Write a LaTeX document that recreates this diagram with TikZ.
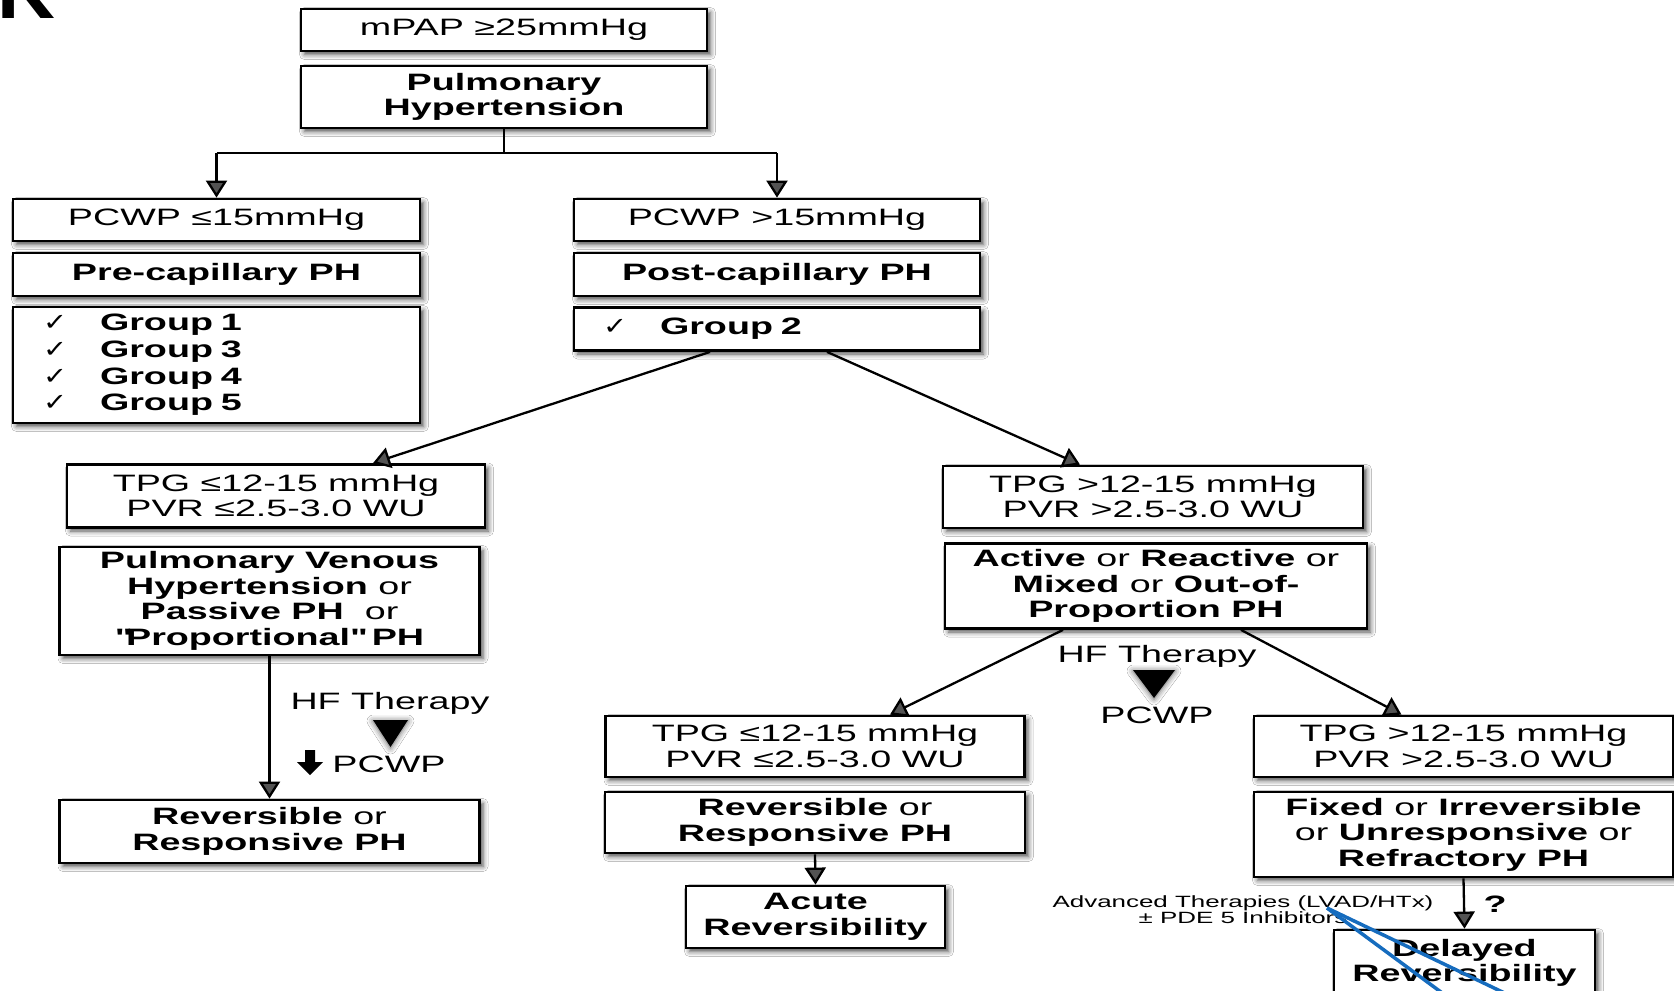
\documentclass[tikz,border=0pt]{standalone}
\usepackage{fontspec}
\setmainfont{Liberation Sans}[FakeStretch=1.59]
\newfontfamily\chkfont{DejaVu Sans}
\newfontfamily\plainsans{Liberation Sans}
\usetikzlibrary{arrows.meta,shadows.blur,calc}
\newcommand{\chkmk}{\makebox[57pt][l]{\scalebox{1.2}[1]{\chkfont\mdseries\fontsize{24}{24}\selectfont ✓}}}
\newcommand{\sdq}{\XeTeXglyph\XeTeXglyphindex "quotedbl"\relax}
\begin{document}
\begin{tikzpicture}[x=1pt,y=-1pt,
  shd/.style={blur shadow={shadow xshift=3.5pt, shadow yshift=-3.5pt, shadow blur radius=5pt, shadow opacity=70}},
  box/.style={draw=black, line width=2.8pt, fill=white, inner sep=0pt, align=center, shd,
    font=\fontsize{23.7}{25.6}\selectfont},
  bbox/.style={box, font=\fontsize{23.7}{25.6}\selectfont\bfseries},
  arr/.style={-{Triangle[length=17pt,width=21pt]}, line width=2.3pt},
  lbl/.style={inner sep=0pt, anchor=base, font=\fontsize{23.7}{25.6}\selectfont},
  small/.style={inner sep=0pt, anchor=base, font=\fontsize{16.3}{16}\selectfont},
  tri/.style={fill=black, blur shadow={shadow xshift=0pt, shadow yshift=-1pt, shadow blur radius=6pt, shadow opacity=65}},
  pen/.style={draw={rgb,255:red,22;green,108;blue,190}, line width=3.5pt},
]
\useasboundingbox (0,0) rectangle (1674,991);
\clip (0,0) rectangle (1674,991);
\fill[white] (0,0) rectangle (1674,991);

% panel letter (cut off at the top)
\node[inner sep=0pt, anchor=base west, font=\plainsans\bfseries\fontsize{80}{80}\selectfont] (panel) at (-3,18) {K};

% boxes
\node[box, minimum width=406pt, minimum height=42pt] (mpap) at (504,30) {mPAP ≥25mmHg};
\node[bbox, minimum width=406pt, minimum height=62pt] (ph) at (504,97) {Pulmonary\\Hypertension};

\node[box, minimum width=407pt, minimum height=42pt] (pcwpL) at (216.5,220) {PCWP ≤15mmHg};
\node[bbox, minimum width=407pt, minimum height=116pt, text width=347pt, align=left,
      font=\fontsize{23.7}{26.7}\selectfont\bfseries] (grpL) at (216.5,365)
      {\chkmk Group 1\\\chkmk Group 3\\\chkmk Group 4\\\chkmk Group 5};
\node[bbox, minimum width=407pt, minimum height=43pt] (preL) at (216.5,274.5) {Pre-capillary PH};

\node[box, minimum width=406pt, minimum height=42pt] (pcwpR) at (777,220) {PCWP >15mmHg};
\node[bbox, minimum width=406pt, minimum height=43pt, text width=348pt, align=left] (grp2) at (777,329) {\chkmk Group 2};
\node[bbox, minimum width=406pt, minimum height=43pt] (postR) at (777,274.5) {Post-capillary PH};

\node[bbox, minimum width=420pt, minimum height=108pt] (pvh) at (269.5,601)
      {Pulmonary Venous\\Hypertension {\mdseries or}\\Passive PH\ \ {\mdseries or}\\\sdq Proportional\sdq\ PH};
\node[box, minimum width=418pt, minimum height=63pt] (tpgL) at (276,496) {TPG ≤12-15 mmHg\\PVR ≤2.5-3.0 WU};
\node[bbox, minimum width=420pt, minimum height=63pt] (revL) at (269.5,831.5) {Reversible {\mdseries or}\\Responsive PH};

\node[bbox, minimum width=422pt, minimum height=85pt] (active) at (1156,586)
      {Active {\mdseries or} Reactive {\mdseries or}\\Mixed {\mdseries or} Out-of-\\Proportion PH};
\node[box, minimum width=420pt, minimum height=62pt] (tpgR) at (1153,497) {TPG >12-15 mmHg\\PVR >2.5-3.0 WU};

\node[bbox, minimum width=259pt, minimum height=62pt] (acute) at (815.5,917) {Acute\\Reversibility};
\node[bbox, minimum width=420pt, minimum height=61pt] (revM) at (815,822.5) {Reversible {\mdseries or}\\Responsive PH};
\node[box, minimum width=419pt, minimum height=61pt] (tpgM) at (815,746.5) {TPG ≤12-15 mmHg\\PVR ≤2.5-3.0 WU};

\node[bbox, minimum width=261pt, minimum height=66pt] (delayed) at (1464.5,963) {Delayed\\Reversibility};
\node[bbox, minimum width=419pt, minimum height=85pt] (fixed) at (1463.5,834.5)
      {Fixed {\mdseries or} Irreversible\\{\mdseries or} Unresponsive {\mdseries or}\\Refractory PH};
\node[box, minimum width=419pt, minimum height=61pt] (tpgRR) at (1463.5,746.5) {TPG >12-15 mmHg\\PVR >2.5-3.0 WU};

% labels
\node[lbl] (hfL) at (390,709) {HF Therapy};
\node[lbl] (pcwpLbl) at (389,772) {PCWP};
\node[lbl] (hfR) at (1157,662) {HF Therapy};
\node[lbl] (pcwpRbl) at (1157,723) {PCWP};
\node[lbl, font=\fontsize{23.7}{25.6}\selectfont\bfseries] (qm) at (1495,912) {?};
\node[small] (adv1) at (1243,907) {Advanced Therapies (LVAD/HTx)};
\node[small] (adv2) at (1243,923) {± PDE 5 Inhibitors};

% triangles and block arrow
\fill[tri] (373,720) -- (408,720) -- (390.5,747) -- cycle;
\fill[tri] (1133,670) -- (1175,670) -- (1154,698) -- cycle;
\fill[black] (305,750) -- (315,750) -- (315,762) -- (323,762) -- (310,775) -- (297,762) -- (305,762) -- cycle;

% connectors
\coordinate (split) at (504,153);
\draw[line width=2.3pt] (ph.south) -- (split);
\draw[line width=2.3pt] (split -| pcwpL) -- (split -| pcwpR);
\draw[arr] (split -| pcwpL) -- (pcwpL.north);
\draw[arr] (split -| pcwpR) -- (pcwpR.north);
\draw[arr] ([xshift=-67pt]grp2.south) -- ([xshift=97pt]tpgL.north);
\draw[arr] ([xshift=50pt]grp2.south) -- ([xshift=-73pt]tpgR.north);
\draw[arr] (pvh.south) -- (revL.north);
\draw[arr] ([xshift=-93pt]active.south) -- ([xshift=75pt]tpgM.north);
\draw[arr] ([xshift=85pt]active.south) -- ([xshift=-62pt]tpgRR.north);
\draw[arr] (revM.south) -- (acute.north);
\draw[arr] (fixed.south) -- (delayed.north);

% blue pen strokes
\coordinate (pen0) at (1327,908);
\coordinate (pen1) at (1468,1012);
\coordinate (pen2) at (1540,1010);
\draw[pen] (pen0) -- (pen1);
\draw[pen] (pen0) -- (pen2);
\end{tikzpicture}
\end{document}
